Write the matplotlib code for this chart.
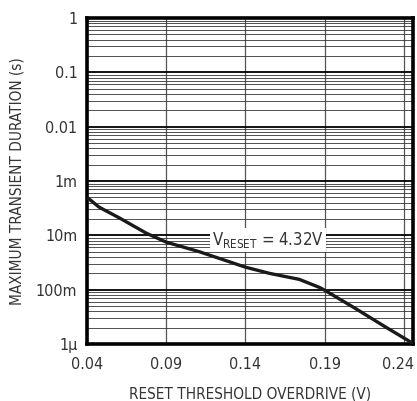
import numpy as np
import matplotlib
matplotlib.use('Agg')
import matplotlib.pyplot as plt
import matplotlib.transforms as mtransforms
from matplotlib.ticker import FixedLocator, NullFormatter

plt.rcParams['font.family'] = ['DejaVu Sans']
plt.rcParams['font.stretch'] = 'condensed'
plt.rcParams['mathtext.fontset'] = 'custom'
plt.rcParams['mathtext.rm'] = 'DejaVu Sans:stretch=condensed'

# Datos
overdrive = [0.04, 0.0476, 0.0603, 0.0773, 0.09, 0.1109, 0.14, 0.1552,
             0.174, 0.1868, 0.19, 0.209, 0.228, 0.2457]
duracion = [5.0e-4, 3.3e-4, 2.1e-4, 1.1e-4, 7.5e-5, 5.0e-5, 2.6e-5, 2.0e-5,
            1.55e-5, 1.1e-5, 9.8e-6, 4.6e-6, 2.1e-6, 1.03e-6]

xticks = [0.04, 0.09, 0.14, 0.19, 0.24]
xtick_labels = ['0.04', '0.09', '0.14', '0.19', '0.24']
yticks = [1e-6, 1e-5, 1e-4, 1e-3, 1e-2, 1e-1, 1]
ytick_labels = ['1\u03bc', '100m', '10m', '1m', '0.01', '0.1', '1']

texto = '#333333'

fig = plt.figure(figsize=(4.17, 4.01), dpi=100)
ax = fig.add_axes([0.209, 0.142, 0.781, 0.813])

ax.set_yscale('log')
ax.set_xlim(0.04, 0.2457)
ax.set_ylim(1e-6, 1)

# rejilla
minors = [m * 10.0 ** e for e in range(-6, 0) for m in range(2, 10)]
ax.yaxis.set_minor_locator(FixedLocator(minors))
ax.yaxis.set_minor_formatter(NullFormatter())
ax.set_yticks(yticks)
ax.set_yticklabels(ytick_labels)
ax.set_xticks(xticks)
ax.set_xticklabels(xtick_labels)
ax.grid(True, which='major', axis='y', color='black', linewidth=1.3)
ax.grid(True, which='minor', axis='y', color='#333333', linewidth=0.6)
ax.grid(True, which='major', axis='x', color='#555555', linewidth=0.9)
ax.tick_params(which='both', length=0, labelsize=11.5, colors=texto)
ax.tick_params(axis='x', pad=9)
ax.tick_params(axis='y', pad=7)

# la ultima etiqueta se corre un poco a la izquierda para que no se corte
ultima = ax.get_xticklabels()[-1]
ultima.set_transform(ultima.get_transform() +
                     mtransforms.ScaledTranslation(-6 / 100, 0, fig.dpi_scale_trans))

for s in ax.spines.values():
    s.set_linewidth(2.6)
    s.set_color('black')

ax.plot(overdrive, duracion, color='#1a1a1a', linewidth=2.4, zorder=5,
        solid_capstyle='butt')

ax.text(0.154, 8.1e-5, r'V$_\mathregular{RESET}$ = 4.32V', fontsize=12,
        color=texto, ha='center', va='center', zorder=6,
        bbox=dict(facecolor='white', edgecolor='none', pad=1.5))

ax.set_xlabel('RESET THRESHOLD OVERDRIVE (V)', fontsize=11, color=texto, labelpad=11)
ax.set_ylabel('MAXIMUM TRANSIENT DURATION (s)', fontsize=11, color=texto, labelpad=8)

fig.savefig('out.png', dpi=100)
